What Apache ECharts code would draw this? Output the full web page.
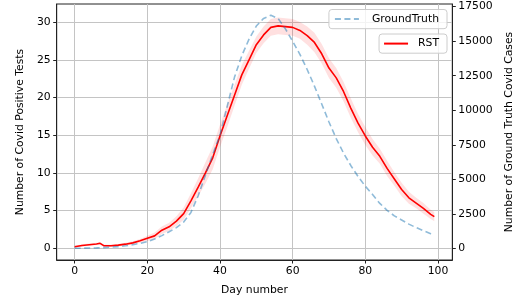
<!DOCTYPE html>
<html><head><meta charset="utf-8">
<script src="https://cdn.jsdelivr.net/npm/echarts@6/dist/echarts.min.js"></script>
<style>html,body{margin:0;padding:0;background:#fff}#c{width:518px;height:307px}</style>
</head><body><div id="c"></div>
<script>
const days = [0,2,4,6,7,8,10,12,14,16,18,20,22,24,26,28,30,32,34,36,38,40,42,44,46,48,50,52,54,56,58,60,62,64,66,68,70,72,74,76,78,80,82,84,86,88,90,92,94,96,98,99];
const rstValues = [0.2,0.38,0.48,0.58,0.66,0.35,0.33,0.42,0.55,0.72,1.0,1.33,1.65,2.4,2.85,3.6,4.6,6.3,8.1,10.0,12.0,14.9,17.6,20.3,23.0,25.0,27.0,28.3,29.3,29.5,29.4,29.3,28.9,28.2,27.3,25.8,23.9,22.6,20.8,18.6,16.6,14.9,13.4,12.2,10.6,9.2,7.8,6.7,6.0,5.3,4.5,4.2];
const rstSpread = [0.15,0.15,0.15,0.15,0.15,0.15,0.15,0.15,0.18,0.2,0.25,0.35,0.45,0.5,0.55,0.65,0.8,1.0,1.2,1.4,1.5,1.5,1.5,1.4,1.3,1.2,1.1,1.1,1.1,1.1,1.1,1.1,1.1,1.2,1.3,1.3,1.3,1.3,1.3,1.3,1.2,1.2,1.1,1.0,1.0,0.9,0.9,0.8,0.7,0.7,0.6,0.6];
const gtValues = [0,10,20,30,40,50,80,120,180,260,360,480,680,920,1200,1500,1900,2600,3800,5300,6800,8200,10300,12400,13950,15150,16100,16650,16880,16650,15900,15000,14050,12950,11750,10450,9150,7950,6900,6000,5200,4500,3900,3250,2750,2350,2050,1750,1500,1280,1060,980];
const xTicks = [0,20,40,60,80,100];
const leftTicks = [0,5,10,15,20,25,30];
const rightTicks = [0,2500,5000,7500,10000,12500,15000,17500];

const FS = 10.8;
const axisCol = '#222';
const txt = {fontSize: FS, color: '#000', fontFamily: 'DejaVu Sans'};
const legendBase = {orient: 'vertical', itemWidth: 24, itemHeight: 14,
  borderColor: '#ccc', borderWidth: 1, borderRadius: 3, backgroundColor: 'rgba(255,255,255,0.8)',
  itemStyle: {opacity: 0}, selectedMode: false};
const chart = echarts.init(document.getElementById('c'), null, {renderer: 'canvas'});
chart.setOption({
  animation: false,
  textStyle: {fontFamily: 'DejaVu Sans'},
  grid: {left: 56.7, right: 65.7, top: 4, bottom: 47, show: true, borderColor: axisCol, borderWidth: 1, containLabel: false, outerBoundsMode: 'none'},
  legend: [
    Object.assign({data: ['GroundTruth'], right: 71, top: 9.5, padding: [4, 8, 4, 5],
      textStyle: Object.assign({padding: [0, 0, 0, 8]}, txt)}, legendBase),
    Object.assign({data: ['RST'], right: 71, top: 34, padding: [4, 8, 4, 4],
      textStyle: Object.assign({padding: [0, 0, 0, 5]}, txt)}, legendBase)
  ],
  xAxis: {
    type: 'value', min: -4.95, max: 103.95,
    name: 'Day number', nameLocation: 'middle', nameGap: 25, nameTextStyle: txt,
    axisLine: {show: true, onZero: false, lineStyle: {color: axisCol, width: 1}},
    axisTick: {show: true, length: 3.5, customValues: xTicks, lineStyle: {color: axisCol, width: 1}},
    axisLabel: Object.assign({customValues: xTicks, margin: 6, formatter: v => String(v)}, txt),
    splitLine: {show: true, lineStyle: {color: '#c4c4c4', width: 1}}
  },
  yAxis: [
    {type: 'value', position: 'left', min: -1.55, max: 32.4,
     name: 'Number of Covid Positive Tests', nameLocation: 'middle', nameGap: 31, nameRotate: 90, nameTextStyle: txt,
     axisLine: {show: true, onZero: false, lineStyle: {color: axisCol, width: 1}},
     axisTick: {show: true, length: 3.5, customValues: leftTicks, lineStyle: {color: axisCol, width: 1}},
     axisLabel: Object.assign({customValues: leftTicks, margin: 6, formatter: v => String(v)}, txt),
     splitLine: {show: true, lineStyle: {color: '#c4c4c4', width: 1}}},
    {type: 'value', position: 'right', min: -847, max: 17695,
     name: 'Number of Ground Truth Covid Cases', nameLocation: 'middle', nameGap: 42, nameRotate: 90, nameTextStyle: txt,
     axisLine: {show: true, onZero: false, lineStyle: {color: axisCol, width: 1}},
     axisTick: {show: true, length: 3.5, customValues: rightTicks, lineStyle: {color: axisCol, width: 1}},
     axisLabel: Object.assign({customValues: rightTicks, margin: 6, formatter: v => String(v)}, txt),
     splitLine: {show: false}}
  ],
  series: [
    {name: 'band', type: 'custom', yAxisIndex: 0, silent: true, z: 1, data: [[0, 0]],
     renderItem: (params, api) => {
       const up = days.map((d, i) => api.coord([d, rstValues[i] + rstSpread[i]]));
       const lo = days.map((d, i) => api.coord([d, rstValues[i] - rstSpread[i]])).reverse();
       return {type: 'polygon', shape: {points: up.concat(lo)}, style: {fill: 'rgba(255,0,0,0.12)'}};
     }},
    {name: 'RST', type: 'line', yAxisIndex: 0, symbol: 'none', z: 3,
     lineStyle: {color: '#ff0000', width: 1.6}, itemStyle: {color: '#ff0000'},
     data: days.map((d, i) => [d, rstValues[i]])},
    {name: 'GroundTruth', type: 'line', yAxisIndex: 1, symbol: 'none', z: 4,
     lineStyle: {color: 'rgba(31,119,180,0.5)', width: 1.6, type: [6, 3.5]}, itemStyle: {color: 'rgba(31,119,180,0.5)'},
     data: days.map((d, i) => [d, gtValues[i]])}
  ]
});
</script></body></html>
